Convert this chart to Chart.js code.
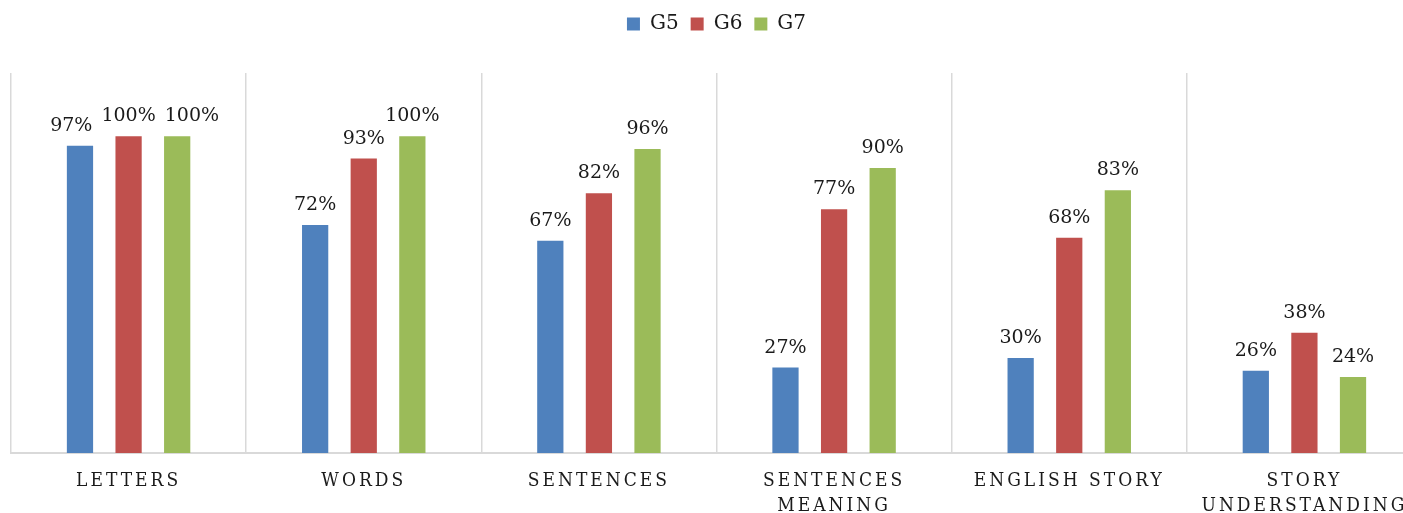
<!DOCTYPE html>
<html>
<head>
<meta charset="utf-8">
<script src="https://cdn.jsdelivr.net/npm/chart.js@4/dist/chart.umd.min.js"></script>
<style>
  html, body { margin: 0; padding: 0; background: #fff; overflow: hidden; }
  #wrap { width: 1440px; height: 513px; }
</style>
</head>
<body>
<div id="wrap"><canvas id="chart"></canvas></div>
<script>
// categories (x axis)
const categories = [
    'LETTERS',
    'WORDS',
    'SENTENCES',
    ['SENTENCES', 'MEANING'],
    'ENGLISH STORY',
    ['STORY', 'UNDERSTANDING']
];
const seriesNames = ['G5', 'G6', 'G7'];
const g5 = [97, 72, 67, 27, 30, 26];
const g6 = [100, 93, 82, 77, 68, 38];
const g7 = [100, 100, 96, 90, 83, 24];

const colors = ['#4F81BD', '#C0504D', '#9BBB59'];
const FONT = '"DejaVu Serif", "Liberation Serif", serif';
const FONT_COND = '"DejaVu Serif Condensed", "DejaVu Serif", serif';

// category scale whose labels are letter-spaced
class SpacedCategory extends Chart.CategoryScale {
    drawLabels(area) {
        const ctx = this.ctx;
        ctx.save();
        ctx.letterSpacing = '3px';
        super.drawLabels(area);
        ctx.restore();
    }
}
SpacedCategory.id = 'spacedCategory';
SpacedCategory.defaults = Chart.CategoryScale.defaults;
Chart.register(SpacedCategory);

// push plot area down below the legend
const legendSpace = {
    id: 'legendSpace',
    beforeInit(chart) {
        const origFit = chart.legend.fit;
        chart.legend.fit = function () {
            origFit.bind(chart.legend)();
            this.height += 29;
        };
    }
};

// value labels above each bar; labels that collide with the middle one get nudged sideways
const valueLabels = {
    id: 'valueLabels',
    afterDatasetsDraw(chart) {
        const ctx = chart.ctx;
        const size = 19, gap = 9, lift = 15;
        ctx.save();
        ctx.font = size + 'px ' + FONT;
        ctx.fillStyle = '#1a1a1a';
        ctx.textAlign = 'center';
        ctx.textBaseline = 'alphabetic';
        const n = chart.data.datasets.length;
        chart.data.labels.forEach((_, j) => {
            const items = chart.data.datasets.map((ds, i) => {
                const bar = chart.getDatasetMeta(i).data[j];
                const text = ds.data[j] + '%';
                const w = ctx.measureText(text).width;
                return { text, x: bar.x, base: bar.y - lift, w };
            });
            const mid = items[Math.floor(n / 2)];
            const vOverlap = (a, b) => Math.abs(a.base - b.base) < size;
            items.forEach((it, i) => {
                if (it === mid || !vOverlap(it, mid)) return;
                if (i < n / 2) {
                    const over = (it.x + it.w / 2) - (mid.x - mid.w / 2) + gap;
                    if (over > 0) it.x -= over;
                } else {
                    const over = (mid.x + mid.w / 2) - (it.x - it.w / 2) + gap;
                    if (over > 0) it.x += over;
                }
            });
            items.forEach(it => ctx.fillText(it.text, it.x, it.base));
        });
        ctx.restore();
    }
};

const data = {
    labels: categories,
    datasets: [g5, g6, g7].map((vals, i) => ({
        label: seriesNames[i],
        data: vals,
        backgroundColor: colors[i],
        borderWidth: 0,
        categoryPercentage: 0.62,
        barPercentage: 0.54
    }))
};

new Chart(document.getElementById('chart'), {
    type: 'bar',
    data: data,
    plugins: [legendSpace, valueLabels],
    options: {
        responsive: true,
        maintainAspectRatio: false,
        animation: false,
        layout: { padding: { left: 11, right: 18, top: 2, bottom: 0 } },
        plugins: {
            legend: {
                position: 'top',
                labels: {
                    boxWidth: 13,
                    boxHeight: 13,
                    padding: 12,
                    color: '#1a1a1a',
                    font: { family: FONT, size: 20 }
                }
            },
            tooltip: { enabled: false }
        },
        scales: {
            x: {
                type: 'spacedCategory',
                offset: true,
                afterFit(scale) { scale.height = 60; },
                grid: {
                    offset: true,
                    color: '#d9d9d9',
                    lineWidth: 1.5,
                    drawTicks: false
                },
                border: { color: '#d9d9d9', width: 2 },
                ticks: {
                    color: '#1a1a1a',
                    font: { family: FONT_COND, size: 19, lineHeight: 1.3 },
                    padding: 16,
                    maxRotation: 0,
                    autoSkip: false
                }
            },
            y: {
                display: false,
                min: 0,
                max: 120
            }
        }
    }
});
</script>
</body>
</html>
